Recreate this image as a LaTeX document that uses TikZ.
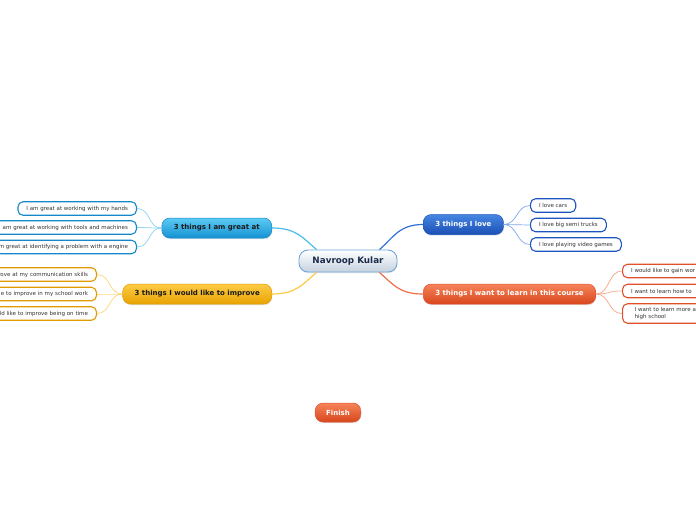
\documentclass[tikz,border=0pt]{standalone}
\usepackage{fontspec}
\setmainfont{DejaVu Sans}
\usetikzlibrary{shadows}
\definecolor{cyT}{HTML}{5CCBF4}
\definecolor{cyB}{HTML}{1591D2}
\definecolor{cyD}{HTML}{1488C8}
\definecolor{cyM}{HTML}{4DBBEA}
\definecolor{cyL}{HTML}{8FD3F3}
\definecolor{yeT}{HTML}{FCCB45}
\definecolor{yeB}{HTML}{E9A302}
\definecolor{yeD}{HTML}{E09B00}
\definecolor{yeL}{HTML}{FDD77A}
\definecolor{blT}{HTML}{4786E2}
\definecolor{blB}{HTML}{1A4FB4}
\definecolor{blD}{HTML}{1D55BE}
\definecolor{blM}{HTML}{3072D8}
\definecolor{blL}{HTML}{7FA8EA}
\definecolor{orT}{HTML}{F6845A}
\definecolor{orB}{HTML}{D8461C}
\definecolor{orD}{HTML}{E0502A}
\definecolor{orM}{HTML}{F06E48}
\definecolor{orL}{HTML}{F7A488}
\definecolor{ceB}{HTML}{C5D2DF}
\definecolor{ceD}{HTML}{6FA8DC}
\definecolor{navy}{HTML}{1C2B4C}
\definecolor{ink}{HTML}{1A1A1A}
\definecolor{leafText}{HTML}{333333}
\begin{document}
\begin{tikzpicture}[x=1pt,y=-1pt,
  topic/.style={rounded corners=8pt, minimum height=20pt, inner xsep=12pt, inner ysep=0pt,
    font=\fontsize{7}{8}\selectfont\bfseries, line width=0.5pt,
    drop shadow={opacity=0.25, shadow xshift=0.4pt, shadow yshift=-1.2pt}},
  leafbox/.style={draw, fill=white, rounded corners=5pt, line width=1.1pt, minimum height=13.5pt,
    inner xsep=8.5pt, inner ysep=1pt, font=\fontsize{5.5}{6.6}\selectfont, text=leafText},
  mainline/.style={line width=1.2pt},
  leafline/.style={line width=0.7pt}
]
\useasboundingbox (0,0) rectangle (696,520);
\fill[white] (0,0) rectangle (696,520);
\clip (0,0) rectangle (696,520);

% central node
\node[rounded corners=9pt, minimum height=22pt, minimum width=98pt, inner xsep=10pt, inner ysep=0pt,
  draw=ceD, line width=0.9pt, top color=white, bottom color=ceB, text=navy,
  font=\fontsize{8.8}{10}\selectfont\bfseries,
  drop shadow={opacity=0.2, shadow xshift=0.4pt, shadow yshift=-1.2pt}]
  (c) at (348,261) {Navroop Kular};

% main topics
\node[topic, anchor=east, top color=cyT, bottom color=cyB, draw=cyD, text=ink] (g) at (272,228) {3 things I am great at};
\node[topic, anchor=east, top color=yeT, bottom color=yeB, draw=yeD, text=ink] (y) at (272,294) {3 things I would like to improve};
\node[topic, anchor=west, top color=blT, bottom color=blB, draw=blD, text=white] (l) at (423,224.5) {3 things I love};
\node[topic, anchor=west, top color=orT, bottom color=orB, draw=orD, text=white] (o) at (423,294) {3 things I want to learn in this course};
\node[topic, minimum height=19pt, inner xsep=11pt, top color=orT, bottom color=orB, draw=orD, text=white] (f) at (338,412.5) {Finish};

% main connectors
\draw[mainline, draw=cyM] (g.east) .. controls +(24,0) and +(-14,-12) .. (c.160);
\draw[mainline, draw=blM] (c.20) .. controls +(14,-12) and +(-24,0) .. (l.west);
\draw[mainline, draw=yeT] (c.200) .. controls +(-14,12) and +(24,0) .. (y.east);
\draw[mainline, draw=orM] (c.340) .. controls +(14,12) and +(-24,0) .. (o.west);

% cyan leaves
\node[leafbox, draw=cyD, anchor=east] (g1) at (137,208.5) {I am great at working with my hands};
\node[leafbox, draw=cyD, anchor=east, text width=150pt, align=right] (g2) at (137,227.5) {am great at working with tools and machines};
\node[leafbox, draw=cyD, anchor=east, text width=150pt, align=right] (g3) at (137,247) {m great at identifying a problem with a engine};
\foreach \n in {g1,g2,g3}
  \draw[leafline, draw=cyL] (g.west) .. controls +(-14,0) and +(14,0) .. (\n.east);

% yellow leaves
\node[leafbox, draw=yeD, anchor=east, text width=130pt, align=right] (y1) at (97,274.5) {rove at my communication skills};
\node[leafbox, draw=yeD, anchor=east, text width=130pt, align=right] (y2) at (97,294) {e to improve in my school work};
\node[leafbox, draw=yeD, anchor=east, text width=130pt, align=right] (y3) at (97,313.5) {ld like to improve being on time};
\foreach \n in {y1,y2,y3}
  \draw[leafline, draw=yeL] (y.west) .. controls +(-14,0) and +(14,0) .. (\n.east);

% blue leaves
\node[leafbox, draw=blD, anchor=west] (l1) at (530,205.5) {I love cars};
\node[leafbox, draw=blD, anchor=west] (l2) at (530,225) {I love big semi trucks};
\node[leafbox, draw=blD, anchor=west] (l3) at (530,244.5) {I love playing video games};
\foreach \n in {l1,l2,l3}
  \draw[leafline, draw=blL] (l.east) .. controls +(14,0) and +(-14,0) .. (\n.west);

% orange leaves
\node[leafbox, draw=orD, anchor=west, text width=100pt, align=left] (o1) at (622,271) {I would like to gain wor};
\node[leafbox, draw=orD, anchor=west, text width=100pt, align=left] (o2) at (622,291) {I want to learn how to};
\node[leafbox, draw=orD, anchor=west, text width=100pt, align=left, inner xsep=12pt, minimum height=19.5pt] (o3) at (622,313.5) {I want to learn more a\\high school};
\foreach \n in {o1,o2,o3}
  \draw[leafline, draw=orL] (o.east) .. controls +(14,0) and +(-14,0) .. (\n.west);
\end{tikzpicture}
\end{document}
